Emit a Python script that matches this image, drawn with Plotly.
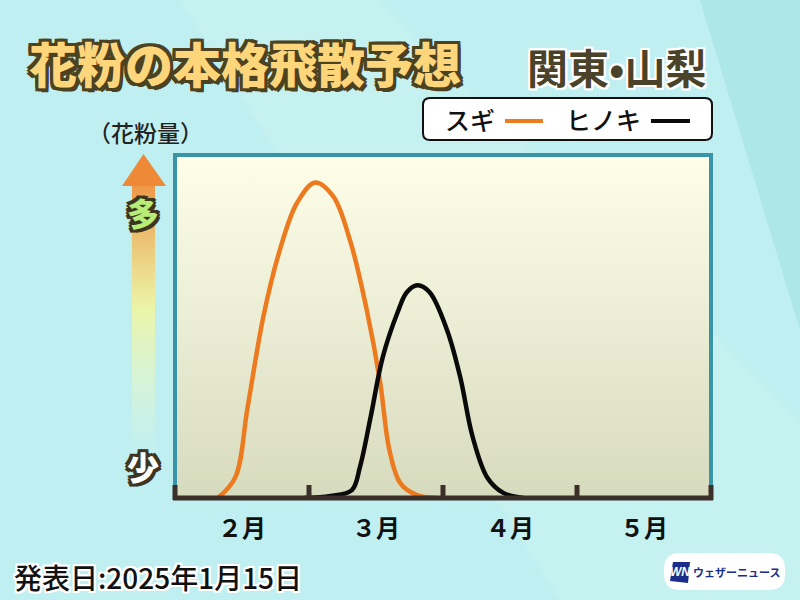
import plotly.graph_objects as go

# month positions: 0 = start of Feb, 1 = start of Mar, ...
month_labels = ["２月", "３月", "４月", "５月"]
month_centers = [0.5, 1.5, 2.5, 3.5]

# スギ (cedar) relative amount
sugi_x = [0.32, 0.45, 0.54, 0.66, 0.78, 0.91, 1.045, 1.18, 1.31, 1.43, 1.53, 1.60, 1.68, 1.80, 1.95]
sugi_y = [0, 6, 26, 53, 72, 86, 92, 88, 74.6, 55, 34, 14, 4.4, 0.9, 0]

# ヒノキ (cypress) relative amount
hinoki_x = [0.96, 1.16, 1.32, 1.38, 1.46, 1.55, 1.66, 1.73, 1.81, 1.90, 2.03, 2.13, 2.22, 2.33, 2.45, 2.60]
hinoki_y = [0, 0.6, 2.3, 9, 23.6, 41, 54, 60, 62, 60, 49, 35, 18, 6, 1.5, 0]

W, H = 800, 600
JP = "Noto Sans CJK JP"
DARK = "#3b2f2a"
TEAL = "#3a94a8"


def px(x):
    return x / W


def py(y):
    return 1 - y / H


def outline(color, r):
    pts = [(r, 0), (-r, 0), (0, r), (0, -r), (r, r), (-r, -r), (r, -r), (-r, r)]
    return ", ".join(f"{a}px {b}px 0 {color}" for a, b in pts)


def rounded_rect(x0, y0, x1, y1, r):
    X0, X1 = px(x0), px(x1)
    Y0, Y1 = py(y0), py(y1)
    rx, ry = r / W, r / H
    return (f"M {X0 + rx},{Y0} L {X1 - rx},{Y0} Q {X1},{Y0} {X1},{Y0 - ry} "
            f"L {X1},{Y1 + ry} Q {X1},{Y1} {X1 - rx},{Y1} L {X0 + rx},{Y1} "
            f"Q {X0},{Y1} {X0},{Y1 + ry} L {X0},{Y0 - ry} Q {X0},{Y0} {X0 + rx},{Y0} Z")


fig = go.Figure()

# plot area background gradient
fig.add_trace(go.Scatter(
    x=[0, 4, 4, 0, 0], y=[0, 0, 100, 100, 0], fill="toself", mode="lines",
    line=dict(width=0), hoverinfo="skip", showlegend=False,
    fillgradient=dict(type="vertical", colorscale=[[0, "#d7dbbe"], [1, "#fefee9"]]),
))

fig.add_trace(go.Scatter(
    x=sugi_x, y=sugi_y, mode="lines", name="スギ",
    line=dict(color="#ec7a1f", width=4.5, shape="spline", smoothing=1),
    showlegend=False,
))
fig.add_trace(go.Scatter(
    x=hinoki_x, y=hinoki_y, mode="lines", name="ヒノキ",
    line=dict(color="#0a0a0a", width=4.5, shape="spline", smoothing=1),
    showlegend=False,
))

# arrow on the left (pixel overlay axes)
fig.add_trace(go.Scatter(
    x=[132, 155, 155, 132, 132], y=[184, 184, 460, 460, 184], fill="toself", mode="lines",
    line=dict(width=0), hoverinfo="skip", showlegend=False, xaxis="x2", yaxis="y2",
    fillgradient=dict(type="vertical", colorscale=[
        [0, "rgba(235,250,215,0)"], [0.55, "rgba(240,245,160,0.9)"], [1, "rgba(238,150,70,1)"]]),
))
fig.add_trace(go.Scatter(
    x=[122, 143.5, 166, 122], y=[186, 154, 186, 186], fill="toself", mode="lines",
    line=dict(width=0), fillcolor="#ee8a37", hoverinfo="skip", showlegend=False,
    xaxis="x2", yaxis="y2",
))

shapes = [
    # background bands
    dict(type="path", xref="paper", yref="paper", layer="below",
         path=f"M {px(180)},{py(0)} L {px(380)},{py(0)} L {px(800)},{py(420)} L {px(800)},{py(600)} L {px(560)},{py(600)} Z",
         fillcolor="rgba(255,255,255,0.12)", line=dict(width=0)),
    dict(type="path", xref="paper", yref="paper", layer="below",
         path=f"M {px(700)},{py(0)} L {px(800)},{py(0)} L {px(800)},{py(330)} Z",
         fillcolor="rgba(60,170,180,0.12)", line=dict(width=0)),
    # frame
    dict(type="path", xref="paper", yref="paper", layer="above",
         path=f"M {px(175)},{py(498)} L {px(175)},{py(155)} L {px(711)},{py(155)} L {px(711)},{py(498)}",
         line=dict(color=TEAL, width=4)),
    dict(type="line", xref="paper", yref="paper", layer="above",
         x0=px(173), x1=px(713), y0=py(498), y1=py(498), line=dict(color=DARK, width=5)),
    # legend box
    dict(type="path", xref="paper", yref="paper", path=rounded_rect(423, 98, 712, 140, 7),
         fillcolor="white", line=dict(color="#111111", width=2)),
    dict(type="line", xref="paper", yref="paper", x0=px(505), x1=px(543), y0=py(121), y1=py(121),
         line=dict(color="#ec7a1f", width=4)),
    dict(type="line", xref="paper", yref="paper", x0=px(651), x1=px(690), y0=py(121), y1=py(121),
         line=dict(color="#0a0a0a", width=4)),
    # logo
    dict(type="path", xref="paper", yref="paper", path=rounded_rect(664, 553, 785, 590, 16),
         fillcolor="white", line=dict(width=0)),
    dict(type="path", xref="paper", yref="paper",
         path=f"M {px(673)},{py(562)} L {px(690)},{py(562)} L {px(688)},{py(583)} L {px(670)},{py(581)} Z",
         fillcolor="#1a2d8a", line=dict(width=0)),
]

# month boundary ticks
for i in range(5):
    xp = 175 + 134 * i
    shapes.append(dict(type="line", xref="paper", yref="paper", layer="above",
                       x0=px(xp), x1=px(xp), y0=py(485), y1=py(500),
                       line=dict(color=DARK, width=5)))

annotations = [
    dict(text="花粉の本格飛散予想", x=px(245), y=py(62),
         font=dict(family=JP, size=48, color="#fdd67c", weight=900,
                   shadow=outline("#4b4221", 3) + ", 3px 4px 0 #4b4221")),
    dict(text="関東•山梨", x=px(617), y=py(66),
         font=dict(family=JP, size=41, color="#4a4229", weight=700,
                   shadow=outline("#ffffff", 2))),
    dict(text="スギ", x=px(470), y=py(119), font=dict(family=JP, size=25, color="#111111", weight=500)),
    dict(text="ヒノキ", x=px(603), y=py(119), font=dict(family=JP, size=25, color="#111111", weight=500)),
    dict(text="（花粉量）", x=px(145), y=py(132), font=dict(family=JP, size=23, color="#222222", weight=500)),
    dict(text="多", x=px(143), y=py(212),
         font=dict(family=JP, size=32, color="#b8ec78", weight=900, shadow=outline("#3d3520", 3))),
    dict(text="少", x=px(143), y=py(466),
         font=dict(family=JP, size=32, color="#ffffff", weight=900, shadow=outline("#3d3520", 3))),
    dict(text="発表日:2025年1月15日", x=px(12), y=py(577), xanchor="left",
         font=dict(family=JP, size=28, color="#111111", weight=500, shadow=outline("#ffffff", 2))),
    dict(text="<i>WN</i>", x=px(680), y=py(572),
         font=dict(family="Liberation Sans", size=12, color="white", weight=700)),
    dict(text="ウェザーニュース", x=px(736), y=py(572),
         font=dict(family=JP, size=11, color="#1a2d8a", weight=700)),
]
for a in annotations:
    a.setdefault("xanchor", "center")
    a.update(xref="paper", yref="paper", yanchor="middle", showarrow=False)

fig.update_layout(
    width=W, height=H,
    margin=dict(l=0, r=0, t=0, b=0),
    paper_bgcolor="#bfeff0",
    plot_bgcolor="rgba(0,0,0,0)",
    xaxis=dict(domain=[px(175), px(711)], range=[0, 4], showgrid=False, zeroline=False,
               showline=False, tickmode="array", tickvals=month_centers, ticktext=month_labels,
               ticks="", ticklabelstandoff=14,
               tickfont=dict(family=JP, size=24, color="#111111", weight=700), fixedrange=True),
    yaxis=dict(domain=[py(498), py(155)], range=[0, 100], visible=False, fixedrange=True),
    xaxis2=dict(domain=[0, 1], range=[0, W], visible=False, anchor="y2"),
    yaxis2=dict(domain=[0, 1], range=[H, 0], visible=False, anchor="x2"),
    shapes=shapes,
    annotations=annotations,
)

fig.write_html("out.html", config={"displayModeBar": False},
               post_script="document.body.style.margin='0';")
